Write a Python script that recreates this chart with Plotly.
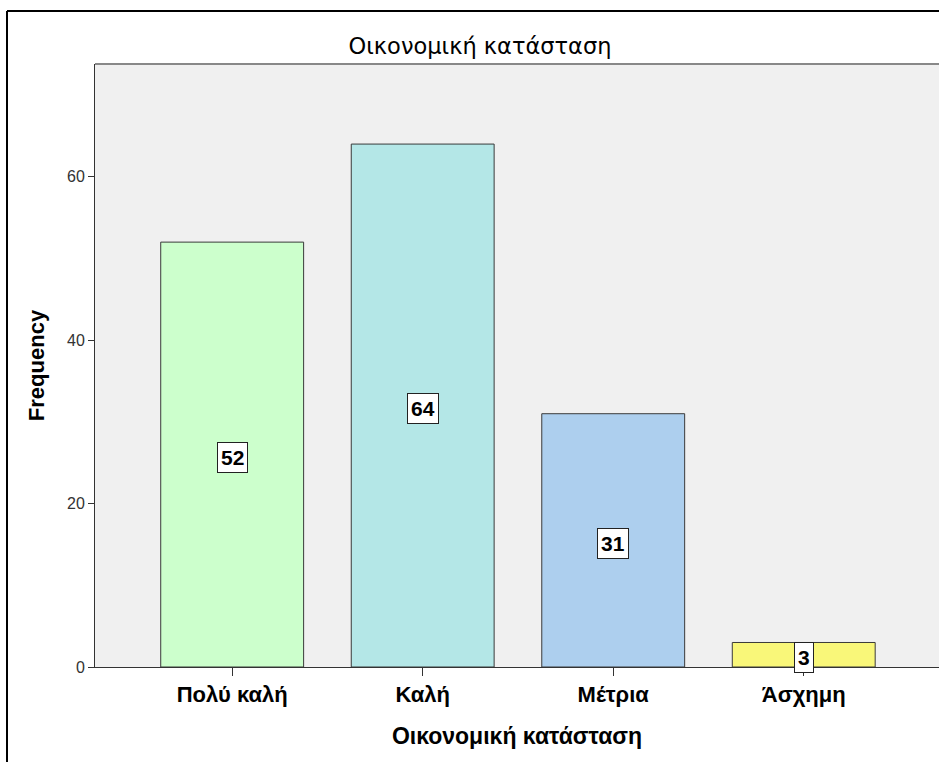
import plotly.graph_objects as go

# Frequencies of economic status
categories = ["Πολύ καλή", "Καλή", "Μέτρια", "Άσχημη"]
frequencies = [52, 64, 31, 3]
bar_colors = ["#CCFFCC", "#B4E7E7", "#ADCFEE", "#F9F779"]
y_ticks = [0, 20, 40, 60]

FONT = "Liberation Sans, Arial, sans-serif"
TITLE_FONT = "DejaVu Sans, sans-serif"

fig = go.Figure()
fig.add_trace(go.Bar(
    x=list(range(len(categories))),
    y=frequencies,
    width=0.75,
    marker=dict(color=bar_colors, line=dict(color="#3a3a3a", width=1)),
    hoverinfo="skip",
))

# Value labels in boxes at half bar height
for i, v in enumerate(frequencies):
    fig.add_annotation(
        x=i, y=v / 2, yshift=-3, text=f"<b>{v}</b>", showarrow=False,
        font=dict(family=FONT, size=21, color="black"),
        bgcolor="white", bordercolor="#222", borderwidth=1, borderpad=3,
    )

W, H = 939, 762
L, R, T, B = 95, 0, 64, 95
pw, ph = W - L - R, H - T - B

def px_x(x):
    return (x - L) / pw

def px_y(y):
    return (H - B - y) / ph

# Outer frame (top and left edges)
fig.add_shape(type="line", xref="paper", yref="paper",
              x0=px_x(7), x1=px_x(W + 5), y0=px_y(11), y1=px_y(11),
              line=dict(color="black", width=2))
fig.add_shape(type="line", xref="paper", yref="paper",
              x0=px_x(7), x1=px_x(7), y0=px_y(11), y1=px_y(H + 5),
              line=dict(color="black", width=2))
# Plot area top border
fig.add_shape(type="line", xref="paper", yref="paper",
              x0=0, x1=1.01, y0=1, y1=1,
              line=dict(color="#888888", width=2))

fig.update_layout(
    width=W, height=H,
    margin=dict(l=L, r=R, t=T, b=B),
    paper_bgcolor="white",
    plot_bgcolor="#F0F0F0",
    showlegend=False,
    title=dict(text="Οικονομική κατάσταση", x=480 / W, xanchor="center",
               xref="container", y=1 - 46 / H, yanchor="middle",
               font=dict(family=TITLE_FONT, size=22.5, color="black")),
    xaxis=dict(
        range=[-0.72, 3.71],
        tickmode="array", tickvals=list(range(len(categories))),
        ticktext=[f"<b>{c}</b>" for c in categories],
        tickfont=dict(family=FONT, size=22, color="black"),
        ticks="outside", ticklen=8, tickcolor="#333", tickwidth=1,
        showline=True, linecolor="#333", linewidth=1,
        showgrid=False, zeroline=False,
        title=dict(text="<b>Οικονομική κατάσταση</b>", standoff=21,
                   font=dict(family=FONT, size=23, color="black")),
    ),
    yaxis=dict(
        range=[0, 73.8],
        tickmode="array", tickvals=y_ticks,
        tickfont=dict(family=FONT, size=16, color="#333"),
        ticks="outside", ticklen=6, tickcolor="#333", tickwidth=1,
        showline=True, linecolor="#333", linewidth=1,
        showgrid=False, zeroline=False,
        title=dict(text="<b>Frequency</b>", standoff=16,
                   font=dict(family=FONT, size=22, color="black")),
    ),
    bargap=0.25,
)

fig.write_html("out.html")
